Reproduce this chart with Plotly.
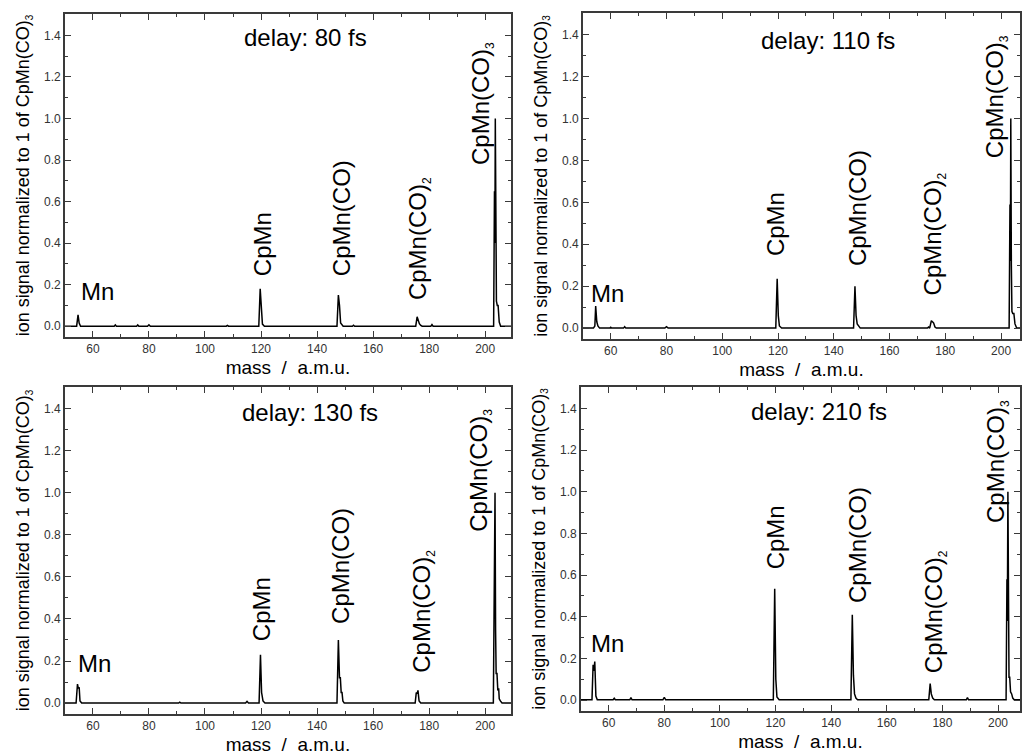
import plotly.graph_objects as go

# ---------------- data ----------------
delays = ["delay: 80 fs", "delay: 110 fs", "delay: 130 fs", "delay: 210 fs"]

mass_80 = [50, 54.2, 54.7, 55.1, 55.6, 67.6, 68, 68.4, 75.6, 76, 76.4, 79.5, 80, 80.5,
           107.6, 108, 108.4, 119.2, 119.7, 120.1, 120.5, 121.2, 147.1, 147.6, 148.0, 148.4,
           148.9, 149.3, 152.6, 153, 153.4, 175.2, 175.7, 176.1, 176.5, 177.0, 177.5, 180.6,
           181, 181.4, 203.0, 203.3, 203.45, 203.6, 203.8, 204.0, 204.3, 204.6, 205.0, 205.5, 210]
signal_80 = [0, 0, 0.055, 0.015, 0, 0, 0.006, 0, 0, 0.006, 0, 0, 0.007, 0,
             0, 0.004, 0, 0, 0.18, 0.06, 0.01, 0, 0, 0.15, 0.10, 0.015,
             0.008, 0, 0, 0.005, 0, 0, 0.045, 0.02, 0.012, 0.004, 0, 0,
             0.008, 0, 0, 0.65, 0.4, 1.0, 0.35, 0.12, 0.1, 0.1, 0.02, 0, 0]

mass_110 = [50, 53.8, 54.3, 54.6, 55.0, 55.4, 56.0, 59.7, 60, 60.3, 64.6, 65, 65.4,
            79.4, 80, 80.6, 119.2, 119.7, 120.1, 120.5, 121.3, 147.1, 147.6, 148.0, 148.4,
            148.9, 149.5, 173.6, 174, 174.4, 175.0, 175.4, 175.8, 176.3, 176.8, 202.9, 203.2,
            203.35, 203.5, 203.7, 203.9, 204.2, 204.6, 205.0, 205.6, 210]
signal_110 = [0, 0, 0.01, 0.105, 0.03, 0.01, 0, 0, 0.004, 0, 0, 0.007, 0,
              0, 0.007, 0, 0, 0.235, 0.06, 0.01, 0, 0, 0.2, 0.06, 0.02,
              0.01, 0, 0, 0.005, 0, 0.035, 0.03, 0.025, 0.005, 0, 0, 0.59,
              0.32, 1.0, 0.3, 0.08, 0.07, 0.07, 0.02, 0, 0]

mass_130 = [50, 54.0, 54.5, 54.8, 55.1, 55.4, 56.0, 90.6, 91, 91.4, 114.5, 115, 115.5,
            119.3, 119.8, 120.2, 120.7, 121.4, 147.1, 147.6, 148.0, 148.3, 148.6, 148.9,
            149.2, 149.7, 175.0, 175.4, 175.7, 176.0, 176.4, 177.0, 202.9, 203.2, 203.35,
            203.5, 203.7, 203.9, 204.2, 204.5, 204.8, 205.0, 205.4, 206.0, 210]
signal_130 = [0, 0, 0.09, 0.07, 0.075, 0.01, 0, 0, 0.004, 0, 0, 0.008, 0,
              0, 0.23, 0.05, 0.01, 0, 0, 0.3, 0.12, 0.12, 0.05, 0.05,
              0.01, 0, 0, 0.05, 0.045, 0.06, 0.01, 0, 0, 0.7, 0.49,
              1.0, 0.35, 0.14, 0.14, 0.06, 0.07, 0.02, 0.01, 0, 0]

mass_210 = [50, 54.0, 54.4, 54.7, 55.0, 55.4, 55.9, 61.6, 62, 62.4, 67.6, 68, 68.4,
            79.5, 80, 80.5, 119.2, 119.7, 120.1, 120.5, 121.3, 147.1, 147.6, 148.0, 148.4,
            148.9, 149.5, 175.1, 175.6, 176.0, 176.5, 177.1, 188.6, 189, 189.4, 202.9, 203.2,
            203.35, 203.55, 203.75, 203.95, 204.2, 204.5, 204.9, 205.3, 205.8, 210]
signal_210 = [0.002, 0.002, 0.17, 0.14, 0.185, 0.02, 0.002, 0.002, 0.009, 0.002, 0.002, 0.012, 0.002,
              0.002, 0.014, 0.002, 0.002, 0.535, 0.1, 0.015, 0.002, 0.002, 0.41, 0.12, 0.03,
              0.01, 0.002, 0.002, 0.08, 0.03, 0.01, 0.002, 0.002, 0.012, 0.002, 0.002, 0.58,
              0.38, 1.0, 0.3, 0.11, 0.11, 0.04, 0.03, 0.01, 0.002, 0.002]

masses = [mass_80, mass_110, mass_130, mass_210]
signals = [signal_80, signal_110, signal_130, signal_210]

x_ticks = [60, 80, 100, 120, 140, 160, 180, 200]
y_ticks = [0.0, 0.2, 0.4, 0.6, 0.8, 1.0, 1.2, 1.4]

# label positions (mass, signal) per panel: Mn, CpMn, CpMn(CO), CpMn(CO)2, CpMn(CO)3, delay
label_pos = [
    [(55.0, 0.165), (120.4, 0.232), (148.6, 0.232), (176.2, 0.116), (198.8, 0.768), (135.7, 1.39)],
    [(52.3, 0.165), (119.2, 0.333), (148.6, 0.285), (175.9, 0.148), (198.3, 0.80), (138.1, 1.37)],
    [(53.9, 0.19), (120.0, 0.285), (148.4, 0.365), (177.5, 0.133), (198.1, 0.807), (137.5, 1.38)],
    [(52.8, 0.27), (120.3, 0.62), (149.4, 0.458), (177.3, 0.122), (199.4, 0.84), (135.6, 1.386)],
]

# ---------------- layout geometry ----------------
W, H = 1022, 756
panels = [  # (x0, x1, ytop, ybottom) in px, x-range end
    (65, 512, 14, 337, 209.2),
    (584, 1022, 13, 339, 206.8),
    (65, 512, 387, 714, 209.2),
    (582, 1022, 387, 711, 207.9),
]

FONT = "Liberation Sans, Arial, sans-serif"
sub = lambda n, s: f"<sub><span style='font-size:{s}px'>{n}</span></sub>"

fig = go.Figure()
layout = dict(
    width=W, height=H, margin=dict(l=0, r=0, t=0, b=0),
    paper_bgcolor="white", plot_bgcolor="white", showlegend=False,
    font=dict(family=FONT, color="black"),
)
annotations = []
for i in range(4):
    k = "" if i == 0 else str(i + 1)
    x0, x1, yt, yb, xr = panels[i]
    fig.add_trace(go.Scatter(x=masses[i], y=signals[i], mode="lines",
                             line=dict(color="black", width=1.5),
                             xaxis="x" + k, yaxis="y" + k, hoverinfo="skip"))
    axcommon = dict(showline=True, linecolor="#3a3a3a", linewidth=1.5, mirror="ticks",
                    ticks="inside", ticklen=6, tickwidth=1.2, tickcolor="#3a3a3a",
                    showgrid=False, zeroline=False,
                    tickfont=dict(family=FONT, size=12, color="#333333"))
    layout["xaxis" + k] = dict(
        axcommon, domain=[x0 / W, x1 / W], anchor="y" + k, range=[50, xr],
        tickvals=x_ticks, ticktext=[str(v) for v in x_ticks],
        minor=dict(ticks="inside", ticklen=3, dtick=10, tick0=0, tickcolor="#3a3a3a"),
        title=dict(text="mass \u00a0/\u00a0 a.m.u.", font=dict(size=19, color="black"), standoff=6),
    )
    layout["yaxis" + k] = dict(
        axcommon, domain=[1 - yb / H, 1 - yt / H], anchor="x" + k, range=[-0.052, 1.503],
        tickvals=y_ticks, ticktext=[f"{v:.1f}" for v in y_ticks],
        minor=dict(ticks="inside", ticklen=3, dtick=0.1, tick0=0, tickcolor="#3a3a3a"),
        title=dict(text="ion signal normalized to 1 of CpMn(CO)" + sub(3, 10),
                   font=dict(size=18, color="black"), standoff=10),
    )
    names = ["Mn", "CpMn", "CpMn(CO)", "CpMn(CO)" + sub(2, 12), "CpMn(CO)" + sub(3, 12)]
    lp = label_pos[i]
    annotations.append(dict(x=lp[0][0], y=lp[0][1], xref="x" + k, yref="y" + k,
                            text="Mn", showarrow=False, xanchor="left", yanchor="middle",
                            font=dict(size=24, family=FONT, color="black")))
    for j in range(1, 5):
        annotations.append(dict(x=lp[j][0], y=lp[j][1], xref="x" + k, yref="y" + k,
                                text=names[j], showarrow=False, textangle=-90,
                                xanchor="center", yanchor="bottom",
                                font=dict(size=24, family=FONT, color="black")))
    annotations.append(dict(x=lp[5][0], y=lp[5][1], xref="x" + k, yref="y" + k,
                            text=delays[i], showarrow=False, xanchor="center", yanchor="middle",
                            font=dict(size=24, family=FONT, color="black")))

layout["annotations"] = annotations
fig.update_layout(**layout)
fig.write_html("out.html")
